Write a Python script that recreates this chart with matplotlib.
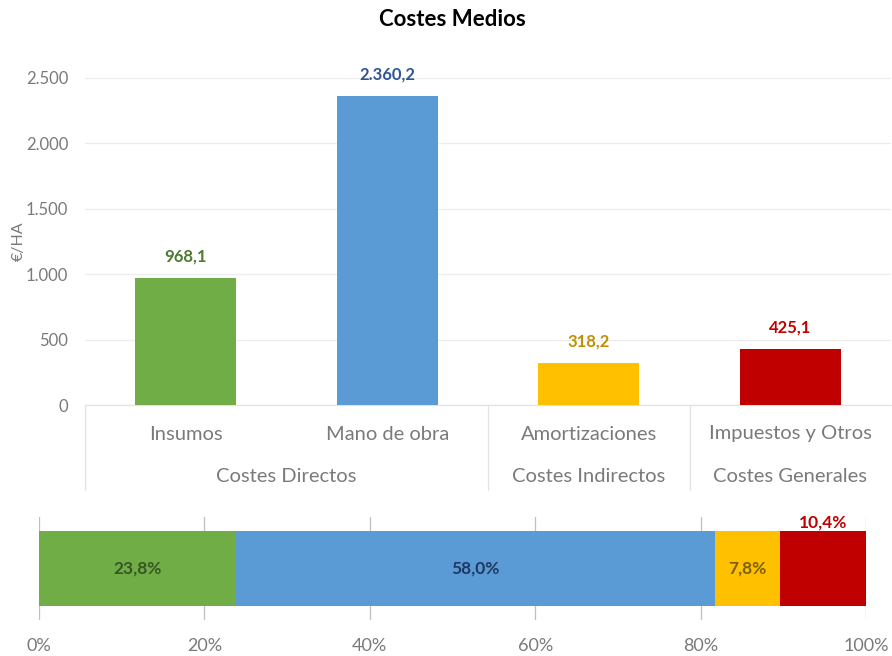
import numpy as np
import matplotlib.pyplot as plt
from matplotlib.ticker import FuncFormatter

plt.rcParams['font.family'] = ['Lato', 'DejaVu Sans']

# data
categories = ['Insumos', 'Mano de obra', 'Amortizaciones', 'Impuestos y Otros']
groups = ['Costes Directos', 'Costes Indirectos', 'Costes Generales']
group_spans = [(0, 1), (2, 2), (3, 3)]
values = [968.1, 2360.2, 318.2, 425.1]

colors = ['#70AD47', '#5B9BD5', '#FFC000', '#C00000']
label_colors = ['#4E7A32', '#2F5597', '#BF9000', '#C00000']
pct_colors = ['#375623', '#1F3864', '#7F6000', '#C00000']
gray = '#7A7A7A'


def fmt_es(v, dec=1):
    s = f'{v:,.{dec}f}'
    return s.replace(',', 'X').replace('.', ',').replace('X', '.')


fig = plt.figure(figsize=(8.92, 6.56), dpi=100)
W, H = 892, 656

# top bar chart
ax = fig.add_axes([85 / W, 1 - 405 / H, 806 / W, 327 / H])
x = np.arange(len(categories))
ax.bar(x, values, width=0.5, color=colors, zorder=3)
ax.set_xlim(-0.5, len(categories) - 0.5)
ax.set_ylim(0, 2500)
ax.set_yticks(np.arange(0, 2501, 500))
ax.yaxis.set_major_formatter(FuncFormatter(lambda v, p: fmt_es(v, 0)))
ax.tick_params(axis='y', length=0, labelsize=12, labelcolor=gray, pad=12)
ax.set_xticks([])
ax.grid(axis='y', color='#EDEDED', lw=0.9, zorder=0)
for s in ax.spines.values():
    s.set_visible(False)
ax.set_ylabel('€/HA', fontsize=11.5, color=gray)
ax.yaxis.set_label_coords(-0.074, 0.5)

for i, v in enumerate(values):
    ax.annotate(fmt_es(v), (x[i], v), xytext=(0, 10), textcoords='offset points',
                ha='center', va='bottom', fontsize=12, fontweight='bold',
                color=label_colors[i])

# two-level category axis drawn below the plot
trans = ax.get_xaxis_transform()
line_kw = dict(color='#E3E3E3', lw=0.9, clip_on=False, transform=trans)
ax.plot([-0.5, 3.5], [0, 0], **line_kw)
for b in [-0.5, 1.5, 2.5]:
    ax.plot([b, b], [0, -85 / 327], **line_kw)
for i, c in enumerate(categories):
    ax.text(x[i], -29 / 327, c, transform=trans, ha='center', va='center',
            fontsize=14.5, color=gray)
for g, (a, b) in zip(groups, group_spans):
    ax.text((a + b) / 2, -72 / 327, g, transform=trans, ha='center',
            va='center', fontsize=14.5, color=gray)

fig.text(452 / W, 1 - 20 / H, 'Costes Medios', ha='center', va='center',
         fontsize=16, fontweight='bold')

# bottom 100% stacked bar
shares = np.array(values) / sum(values) * 100
ax2 = fig.add_axes([39 / W, 1 - 620 / H, 827 / W, 103 / H])
left = 0
for i, s in enumerate(shares):
    ax2.barh(0, s, left=left, height=0.72, color=colors[i], zorder=3)
    lab = fmt_es(s) + '%'
    if i == len(shares) - 1:
        ax2.text(left + s / 2, 0.37, lab, ha='center', va='bottom',
                 fontsize=12.5, fontweight='bold', color=pct_colors[i])
    else:
        ax2.text(left + s / 2, 0, lab, ha='center', va='center',
                 fontsize=12.5, fontweight='bold', color=pct_colors[i])
    left += s
ax2.set_xlim(0, 100)
ax2.set_ylim(-0.5, 0.5)
ax2.set_xticks(np.arange(0, 101, 20))
ax2.xaxis.set_major_formatter(FuncFormatter(lambda v, p: f'{v:.0f}%'))
ax2.tick_params(axis='x', length=0, labelsize=13, labelcolor=gray, pad=13)
ax2.set_yticks([])
ax2.grid(axis='x', color='#BFBFBF', lw=0.9, zorder=0)
for s in ax2.spines.values():
    s.set_visible(False)

fig.savefig('out.png', dpi=100)
